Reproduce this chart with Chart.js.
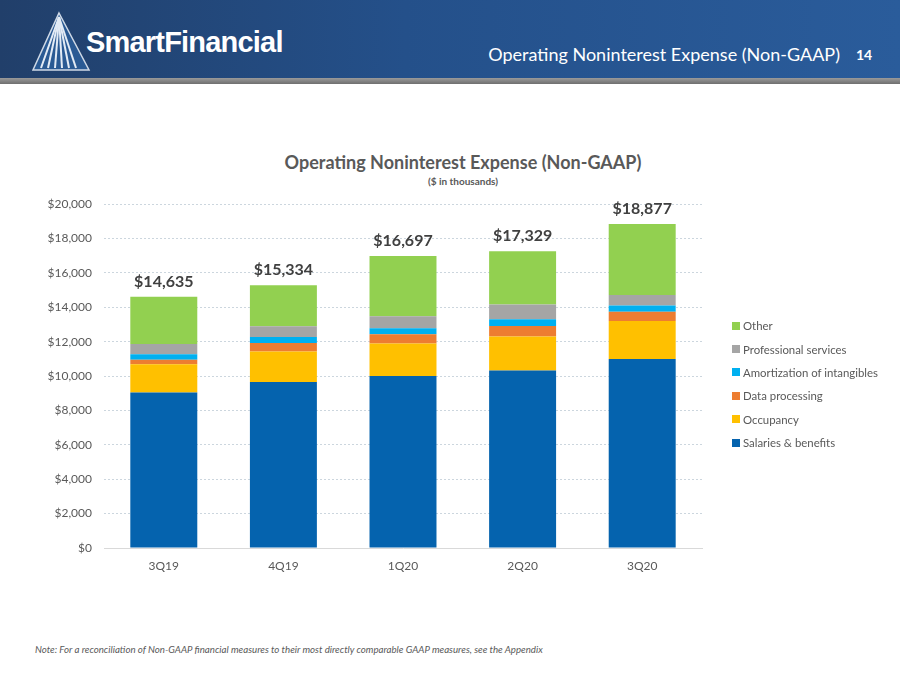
<!DOCTYPE html>
<html>
<head>
<meta charset="utf-8">
<script src="https://cdn.jsdelivr.net/npm/chart.js@4"></script>
<style>
  body { margin: 0; width: 900px; height: 675px; background: #fff; position: relative; overflow: hidden; font-family: Lato, "Open Sans", sans-serif; }
  .header { position: absolute; left: 0; top: 0; width: 900px; height: 78px; background: linear-gradient(90deg, #213f6a 0%, #24508a 45%, #2a5c9b 100%); }
  .stripe { position: absolute; left: 0; top: 78px; width: 900px; height: 6px; background: linear-gradient(180deg, #9a9a9a, #6f6f6f); }
  .brand { position: absolute; left: 86px; top: 26px; color: #fff; font-family: "Liberation Sans", Arial, sans-serif; font-weight: bold; font-size: 29px; letter-spacing: -0.8px; }
  .head-title { position: absolute; right: 60px; top: 43px; color: #fff; font-size: 18px; }
  .page-no { position: absolute; left: 856px; top: 46px; color: #fff; font-size: 14px; font-weight: bold; }
  .chart-title { position: absolute; left: 0; width: 926px; top: 151px; text-align: center; color: #595959; font-weight: bold; font-size: 18px; }
  .chart-sub { position: absolute; left: 0; width: 926px; top: 175px; text-align: center; color: #595959; font-weight: bold; font-size: 10px; }
  #wrap { position: absolute; left: 0; top: 185px; width: 900px; height: 405px; }
  #legend { position: absolute; left: 732px; top: 314px; }
  #legend div { height: 23.4px; font-size: 11.4px; color: #595959; display: flex; align-items: center; }
  #legend span.box { width: 8px; height: 8px; margin-right: 3px; display: inline-block; }
  .note { position: absolute; left: 35px; top: 643px; font-size: 9.7px; font-style: italic; color: #595959; }
</style>
</head>
<body>
<div class="header"></div>
<div class="stripe"></div>
<svg style="position:absolute;left:31px;top:10px" width="62" height="64" viewBox="0 0 62 64">
  <polygon points="28,3 58,60 2,60" fill="#2a5a94" stroke="#cfd9e6" stroke-width="1.5"/>
  <g stroke="#e3ebf5" stroke-width="2">
    <line x1="28" y1="7" x2="10" y2="58"/>
    <line x1="28" y1="7" x2="17" y2="58"/>
    <line x1="28" y1="7" x2="24" y2="58"/>
    <line x1="28" y1="7" x2="31" y2="58"/>
    <line x1="28" y1="7" x2="38" y2="58"/>
    <line x1="28" y1="7" x2="45" y2="58"/>
  </g>
</svg>
<div class="brand">SmartFinancial</div>
<div class="head-title">Operating Noninterest Expense (Non-GAAP)</div>
<div class="page-no">14</div>

<div class="chart-title">Operating Noninterest Expense (Non-GAAP)</div>
<div class="chart-sub">($ in thousands)</div>
<div id="wrap"><canvas id="chart"></canvas></div>
<div id="legend"></div>
<div class="note">Note: For a reconciliation of Non-GAAP financial measures to their most directly comparable GAAP measures, see the Appendix</div>

<script>
const quarters = ['3Q19', '4Q19', '1Q20', '2Q20', '3Q20']
const salaries = [9050, 9650, 10000, 10330, 11000]
const occupancy = [1640, 1780, 1890, 1980, 2200]
const dataProcessing = [255, 500, 540, 600, 540]
const amortization = [325, 350, 350, 390, 365]
const professional = [600, 620, 700, 870, 620]
const other = [2740, 2390, 3500, 3100, 4120]
const totals = [14635, 15334, 16697, 17329, 18877]
const yTicks = [0, 2000, 4000, 6000, 8000, 10000, 12000, 14000, 16000, 18000, 20000]

const series = [
  { label: 'Salaries & benefits', data: salaries, color: '#0563ae' },
  { label: 'Occupancy', data: occupancy, color: '#ffc000' },
  { label: 'Data processing', data: dataProcessing, color: '#ed7d31' },
  { label: 'Amortization of intangibles', data: amortization, color: '#00b0f0' },
  { label: 'Professional services', data: professional, color: '#a5a5a5' },
  { label: 'Other', data: other, color: '#92d050' }
]

const money = v => '$' + v.toLocaleString('en-US')

// total labels sit just above the top of each stack
const totalLabels = {
  id: 'totalLabels',
  afterDatasetsDraw(chart) {
    const ctx = chart.ctx
    const x = chart.scales.x, y = chart.scales.y
    ctx.save()
    ctx.font = 'bold 16px Lato, "Open Sans", sans-serif'
    ctx.fillStyle = '#404040'
    ctx.textAlign = 'center'
    ctx.textBaseline = 'bottom'
    totals.forEach((t, i) => {
      const top = series.reduce((sum, s) => sum + s.data[i], 0)
      ctx.fillText(money(t), x.getPixelForValue(i), y.getPixelForValue(top) - 7)
    })
    ctx.restore()
  }
}

const chart = new Chart(document.getElementById('chart'), {
  type: 'bar',
  data: {
    labels: quarters,
    datasets: series.map(s => ({
      label: s.label,
      data: s.data,
      backgroundColor: s.color,
      barPercentage: 0.56,
      categoryPercentage: 1
    }))
  },
  options: {
    responsive: true,
    maintainAspectRatio: false,
    animation: false,
    layout: { padding: { top: 0, right: 198, left: 0, bottom: 0 } },
    plugins: {
      legend: { display: false },
      tooltip: { enabled: false }
    },
    scales: {
      x: {
        stacked: true,
        grid: { display: false },
        border: { color: '#d9d9d9' },
        ticks: { color: '#595959', font: { size: 12, family: 'Lato' }, padding: 3 },
        afterFit: s => { s.height = 42 }
      },
      y: {
        stacked: true,
        min: 0,
        max: 20000,
        afterBuildTicks: s => { s.ticks = yTicks.map(v => ({ value: v })) },
        ticks: { color: '#595959', font: { size: 12, family: 'Lato' }, padding: 12, callback: v => money(v) },
        grid: { color: '#ccd6de', tickLength: 0, drawTicks: false },
        border: { display: false, dash: [2, 2] },
        afterFit: s => { s.width = 104 }
      }
    }
  },
  plugins: [totalLabels]
})

// legend, reversed like the original
const legend = document.getElementById('legend')
series.slice().reverse().forEach(s => {
  const row = document.createElement('div')
  row.innerHTML = '<span class="box" style="background:' + s.color + '"></span>' + s.label
  legend.appendChild(row)
})
</script>
</body>
</html>
